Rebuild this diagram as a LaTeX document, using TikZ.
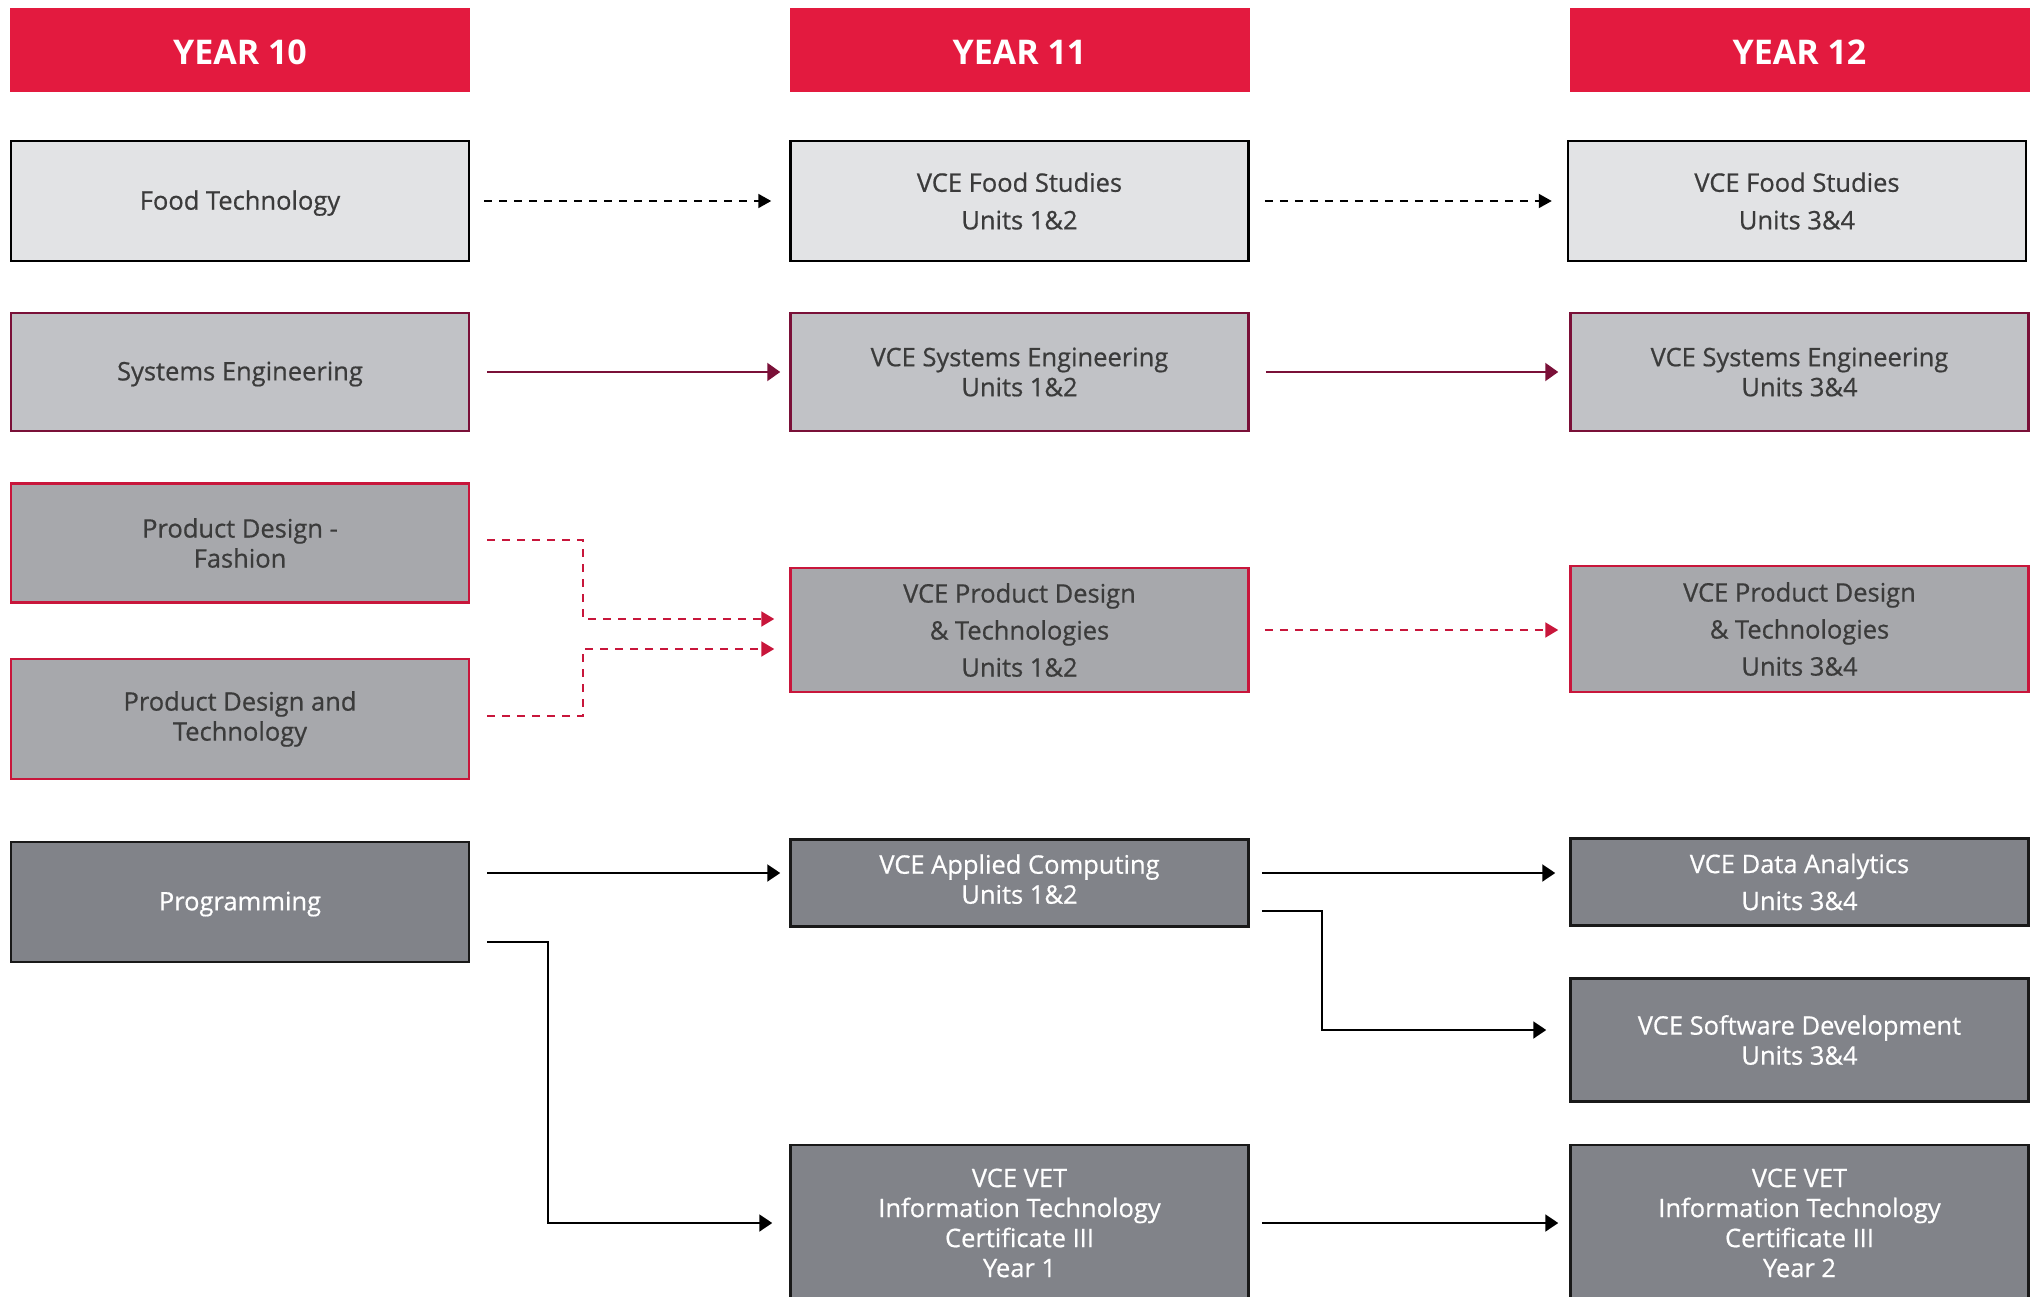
\documentclass[tikz,border=0pt]{standalone}
\usepackage{fontspec}
\setmainfont{Open Sans}
\newfontfamily\boxfont[FakeBold=0.6]{Open Sans}
\usepackage{tikz}
\usetikzlibrary{positioning,calc}
\usetikzlibrary{arrows.meta}

\definecolor{headred}{HTML}{E31A3F}
\definecolor{foodfill}{HTML}{E2E3E5}
\definecolor{sysfill}{HTML}{C1C2C6}
\definecolor{pdfill}{HTML}{A7A8AC}
\definecolor{itfill}{HTML}{818389}
\definecolor{sysline}{HTML}{7A1038}
\definecolor{pdline}{HTML}{C8163B}
\definecolor{textgray}{HTML}{3B3B3B}

\tikzset{
  yearhead/.style={fill=headred,text=white,minimum width=460pt,minimum height=84pt,
    inner sep=0pt,text height=30pt,text depth=0pt,font=\fontsize{34}{40}\selectfont\bfseries},
  course/.style={minimum width=458pt,inner sep=0pt,align=center,line width=2.5pt,
    font=\boxfont\fontsize{25.5}{30}\selectfont},
  foodbox/.style={course,draw=black,fill=foodfill,text=textgray},
  sysbox/.style={course,draw=sysline,fill=sysfill,text=textgray},
  pdbox/.style={course,draw=pdline,fill=pdfill,text=textgray},
  itbox/.style={course,draw=black!90,fill=itfill,text=white},
  foodarrow/.style={draw=black,line width=2pt,dash pattern=on 8pt off 7pt,
    -{Triangle[length=13pt,width=14pt]}},
  sysarrow/.style={draw=sysline,line width=2pt,-{Triangle[length=13pt,width=18pt]}},
  pdarrow/.style={draw=pdline,line width=2pt,dash pattern=on 8pt off 7pt,
    -{Triangle[length=13pt,width=15pt]}},
  itarrow/.style={draw=black,line width=2pt,-{Triangle[length=13pt,width=17pt]}}
}

\begin{document}
\begin{tikzpicture}[x=1pt,y=-1pt]
  \useasboundingbox (0,0) rectangle (2035,1297);

  % \draw[help lines] (0,0) grid[step=100] (2035,1297);

  \node (year10) at (240,50) [yearhead] {YEAR 10};
  \node (year11) at (1019.5,50) [yearhead] {YEAR 11};
  \node (year12) at (1799.5,50) [yearhead] {YEAR 12};

  \node (food10) at (240,201) [foodbox,minimum height=120pt,text depth=2pt] {Food Technology};
  \node (food11) at (1019.5,201) [foodbox,minimum height=120pt] {VCE Food Studies\\[7.6pt]Units 1\&2};
  \node (food12) at (1797,201) [foodbox,minimum height=120pt] {VCE Food Studies\\[7.6pt]Units 3\&4};

  \node (sys10) at (240,372) [sysbox,minimum height=118pt,text depth=2pt] {Systems Engineering};
  \node (sys11) at (1019.5,372) [sysbox,minimum height=118pt] {VCE Systems Engineering\\Units 1\&2};
  \node (sys12) at (1799.5,372) [sysbox,minimum height=118pt] {VCE Systems Engineering\\Units 3\&4};

  \node (pdf10) at (240,543) [pdbox,minimum height=119pt] {Product Design -\\Fashion};
  \node (pdt10) at (240,719) [pdbox,minimum height=120pt] {Product Design and\\Technology};
  \node (pd11) at (1019.5,630) [pdbox,minimum height=124pt] {VCE Product Design\\[7pt]\& Technologies\\[7pt]Units 1\&2};
  \node (pd12) at (1799.5,629) [pdbox,minimum height=126pt] {VCE Product Design\\[7pt]\& Technologies\\[7pt]Units 3\&4};

  \node (prog10) at (240,902) [itbox,minimum height=120pt,text depth=2pt] {Programming};
  \node (ac11) at (1019.5,883) [itbox,minimum height=87pt,text depth=8pt] {VCE Applied Computing\\Units 1\&2};
  \node (da12) at (1799.5,882) [itbox,minimum height=87pt] {VCE Data Analytics\\[7pt]Units 3\&4};
  \node (sd12) at (1799.5,1040) [itbox,minimum height=123pt] {VCE Software Development\\Units 3\&4};
  \node (vet11) at (1019.5,1223) [itbox,minimum height=156pt] {VCE VET\\Information Technology\\Certificate III\\Year 1};
  \node (vet12) at (1799.5,1223) [itbox,minimum height=156pt] {VCE VET\\Information Technology\\Certificate III\\Year 2};

  % food and systems rows
  \draw[foodarrow,shorten <=14pt,shorten >=18pt] (food10.east) -- (food11.west);
  \draw[foodarrow,shorten <=15pt,shorten >=15pt] (food11.east) -- (food12.west);
  \draw[sysarrow,shorten <=17pt,shorten >=9pt] (sys10.east) -- (sys11.west);
  \draw[sysarrow,shorten <=16pt,shorten >=11pt] (sys11.east) -- (sys12.west);

  % product design
  \coordinate (pdmid) at (583,0);
  \coordinate (pdin1) at ([yshift=11pt]pd11.west);
  \coordinate (pdin2) at ([yshift=-19pt]pd11.west);
  \draw[pdarrow,shorten <=17pt,shorten >=15pt] ([yshift=3pt]pdf10.east) -| (pdin1 -| pdmid) -- (pdin1);
  \draw[pdarrow,shorten <=17pt,shorten >=15pt] ([yshift=3pt]pdt10.east) -| (pdin2 -| pdmid) -- (pdin2);
  \draw[pdarrow,shorten <=15pt,shorten >=11pt] (pd11.east) -- (pd11.east -| pd12.west);

  % programming
  \coordinate (progout1) at ([yshift=29pt]prog10.east);
  \coordinate (progout2) at ([yshift=-40pt]prog10.east);
  \coordinate (progbend) at (548,0);
  \draw[itarrow,shorten <=17pt,shorten >=9pt] (progout1) -- (progout1 -| ac11.west);
  \draw[itarrow,shorten <=17pt,shorten >=17pt] (progout2) -| (vet11.west -| progbend) -- (vet11.west);

  \coordinate (acout1) at ([yshift=10pt]ac11.east);
  \coordinate (acout2) at ([yshift=-28pt]ac11.east);
  \coordinate (acbend) at (1322,0);
  \coordinate (sdin) at ([yshift=10pt]sd12.west);
  \draw[itarrow,shorten <=12pt,shorten >=14pt] (acout1) -- (acout1 -| da12.west);
  \draw[itarrow,shorten <=12pt,shorten >=23pt] (acout2) -| (sdin -| acbend) -- (sdin);
  \draw[itarrow,shorten <=12pt,shorten >=11pt] (vet11.east) -- (vet12.west);
\end{tikzpicture}
\end{document}
